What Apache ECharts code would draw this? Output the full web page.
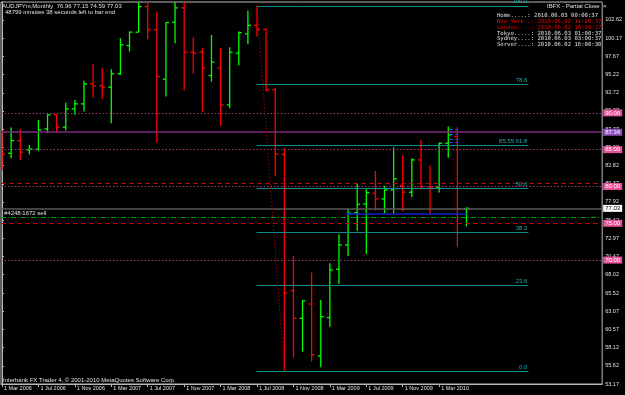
<!DOCTYPE html>
<html><head><meta charset="utf-8">
<script src="https://cdn.jsdelivr.net/npm/echarts@6/dist/echarts.min.js"></script>
<style>html,body{margin:0;padding:0;background:#000;}#c{width:625px;height:395px;}</style>
</head><body><div id="c"></div>
<script>
// ---- data (monthly AUDJPY bars, Mar 2006 .. Jun 2010) ----
const barLabels = ['2006.03','2006.04','2006.05','2006.06','2006.07','2006.08','2006.09','2006.10','2006.11','2006.12',
 '2007.01','2007.02','2007.03','2007.04','2007.05','2007.06','2007.07','2007.08','2007.09','2007.10','2007.11','2007.12',
 '2008.01','2008.02','2008.03','2008.04','2008.05','2008.06','2008.07','2008.08','2008.09','2008.10','2008.11','2008.12',
 '2009.01','2009.02','2009.03','2009.04','2009.05','2009.06','2009.07','2009.08','2009.09','2009.10','2009.11','2009.12',
 '2010.01','2010.02','2010.03','2010.04','2010.05','2010.06'];
const opens  = [86.90,84.52,86.23,84.97,85.07,87.82,89.73,88.05,90.54,91.22,93.94,93.67,93.49,95.30,99.14,100.96,104.44,101.27,94.58,102.32,104.26,98.24,98.24,95.07,96.07,91.08,98.11,100.73,101.89,101.34,93.12,84.36,65.85,62.10,64.04,56.98,62.19,68.76,72.06,76.45,77.63,79.09,78.31,79.53,80.12,79.22,83.61,79.94,79.90,85.88,86.78,76.96];
const highs  = [87.59,88.00,87.82,85.65,89.05,89.79,89.86,91.36,91.76,94.35,96.61,96.07,95.93,100.15,101.04,105.80,106.50,103.76,102.32,106.80,107.50,100.28,98.79,100.59,98.79,98.92,101.04,103.86,104.54,101.50,93.39,85.20,70.57,64.59,68.30,64.59,69.58,73.52,76.95,80.44,79.63,82.12,80.08,85.34,84.25,83.84,86.33,82.84,85.96,88.14,88.05,77.15];
const lows   = [82.16,83.84,83.61,84.39,84.83,87.24,87.32,87.59,89.73,90.17,92.08,91.90,88.60,95.16,98.33,100.91,100.01,85.96,92.21,99.47,93.03,95.30,90.17,94.25,88.23,90.64,96.42,99.33,100.36,92.89,81.44,54.85,56.80,57.57,56.21,55.45,60.96,66.76,70.57,74.00,70.80,76.72,76.37,76.27,76.59,78.54,79.63,76.27,79.17,83.92,71.83,74.59];
const closes = [84.39,86.23,84.66,85.07,87.69,89.73,88.05,90.54,91.22,93.94,93.67,93.49,95.30,99.24,100.96,104.44,101.27,94.93,102.27,104.26,98.24,98.11,96.07,96.89,91.08,98.24,100.91,101.89,101.34,93.12,84.43,65.50,62.10,64.45,57.12,62.32,68.67,72.06,76.37,77.59,79.17,78.31,79.53,81.03,79.22,83.61,79.98,79.85,85.88,87.01,76.96,77.03];

const xTickIndex  = [0,4,8,12,16,20,24,28,32,36,40,44,48];
const xTickLabels = ['1 Mar 2006','1 Jul 2006','1 Nov 2006','1 Mar 2007','1 Jul 2007','1 Nov 2007','1 Mar 2008','1 Jul 2008','1 Nov 2008','1 Mar 2009','1 Jul 2009','1 Nov 2009','1 Mar 2010'];
const yTickValues = [102.62,100.17,97.67,95.22,92.72,90.27,87.77,85.32,82.82,80.37,77.92,75.42,72.97,70.47,68.02,65.52,63.07,60.57,58.12,55.62,53.17];

// Fibonacci retracement (Jul 2008 high -> Oct 2008 low)
const fibStart = 28, fibEnd = 31, fibHigh = 104.54, fibLow = 54.85;
const fibRatios = [100.0, 78.6, 61.8, 50.0, 38.2, 23.6, 0.0];
const fibLabels = ['100.0','78.6','85.55 61.8','50.0','38.2','23.6','0.0'];
// horizontal levels
const pinkLevels = [90.00, 85.00, 80.00, 70.00];
const stopLevels = [80.50, 75.00];
const purpleLevel = 87.37;
const orderLevel = 75.83;
const bidLevel = 77.03;
const blueLevel = 76.23, blueFrom = 37.8, blueTo = 51;
const smallBlueLevels = [87.74, 87.14, 86.46, 86.01];

const header1 = 'AUDJPYm,Monthly  76.96 77.15 74.59 77.03';
const header2 = '48799 minutes 38 seconds left to bar end';
const clockTitle = 'IBFX - Partial Close';
const clockRows = [
  ['Home.....: 2010.06.03 00:00:37', '#e0e0e0'],
  ['New York..: 2010.06.02 11:00:37', '#e00000'],
  ['London....: 2010.06.02 16:00:37', '#e00000'],
  ['Tokyo.....: 2010.06.03 01:00:37', '#e0e0e0'],
  ['Sydney....: 2010.06.03 03:00:37', '#e0e0e0'],
  ['Server....: 2010.06.02 16:00:30', '#e0e0e0']
];
const orderText = '#4248:1672 sell';
const copyright = 'Interbank FX Trader 4, \u00a9 2001-2010 MetaQuotes Software Corp.';

// ---- chart ----
const ohlc = opens.map((o, i) => [i, o, highs[i], lows[i], closes[i]]);
const fibVal = r => fibLow + (fibHigh - fibLow) * r / 100;
const chart = echarts.init(document.getElementById('c'), null, {renderer: 'canvas'});
const font = 'Liberation Sans';
const fs = 6;

const markLines = [];
pinkLevels.forEach(v => markLines.push({yAxis: v, lineStyle: {color: '#a03a70', type: [1.5, 2], width: 1},
  label: {show: true, position: 'end', distance: 1, formatter: v.toFixed(2), color: '#fff', backgroundColor: '#e8509a', padding: [1, 2, 0, 2], fontSize: fs, fontFamily: font}}));
stopLevels.forEach(v => markLines.push({yAxis: v, lineStyle: {color: '#c00000', type: [5, 3], width: 1},
  label: {show: v === 75, position: 'end', distance: 1, formatter: v.toFixed(2), color: '#fff', backgroundColor: '#e8509a', padding: [1, 2, 0, 2], fontSize: fs, fontFamily: font}}));
markLines.push({yAxis: purpleLevel, lineStyle: {color: '#7a2a80', type: 'solid', width: 1.5},
  label: {show: true, position: 'end', distance: 1, formatter: '87.34', color: '#fff', backgroundColor: '#9050c0', padding: [1, 2, 0, 2], fontSize: fs, fontFamily: font}});
markLines.push({yAxis: orderLevel, lineStyle: {color: '#00a000', type: [5, 2, 1, 2], width: 1}, label: {show: false}});
markLines.push({yAxis: bidLevel, lineStyle: {color: '#5a5a5a', type: 'solid', width: 1.5},
  label: {show: true, position: 'end', distance: 1, formatter: bidLevel.toFixed(2), color: '#000', backgroundColor: '#fff', padding: [1, 2, 0, 2], fontSize: fs, fontFamily: font}});
markLines.push([{coord: [blueFrom, blueLevel], lineStyle: {color: '#1020d0', type: 'solid', width: 1.5}, label: {show: false}}, {coord: [blueTo, blueLevel]}]);
smallBlueLevels.forEach(v => markLines.push([{coord: [49.1, v], lineStyle: {color: '#2050d0', width: 1}, label: {show: false}}, {coord: [50.1, v]}]));
fibRatios.forEach((r, k) => markLines.push([{coord: [fibStart - 0.05, fibVal(r)], lineStyle: {color: '#0e8c8c', type: 'solid', width: 1.2},
  label: {show: true, position: 'insideEndTop', distance: 1, formatter: fibLabels[k], color: '#20a8a8', fontSize: fs, fontFamily: font}},
  {coord: [57.8, fibVal(r)]}]));
markLines.push([{coord: [fibStart, fibHigh], lineStyle: {color: '#a00000', type: [1.5, 2], width: 1}, label: {show: false}}, {coord: [fibEnd, fibLow]}]);

const option = {
  backgroundColor: '#000',
  animation: false,
  grid: {left: 1, right: 22, top: 2, bottom: 11, show: true, borderColor: '#b8b8b8', borderWidth: 1, backgroundColor: '#000'},
  xAxis: {
    type: 'value', min: -0.11, max: 65.9,
    axisLine: {show: true, lineStyle: {color: '#b8b8b8'}},
    splitLine: {show: false},
    axisTick: {show: true, customValues: xTickIndex, length: 3, lineStyle: {color: '#b8b8b8'}},
    axisLabel: {customValues: xTickIndex, formatter: v => xTickLabels[xTickIndex.indexOf(Math.round(v))] || '',
      color: '#e0e0e0', fontSize: 5.5, fontFamily: font, align: 'left', margin: 1, padding: [0, 0, 0, 2]}
  },
  yAxis: {
    type: 'value', position: 'right', min: 53.17, max: 105.06, scale: true,
    axisLine: {show: true, lineStyle: {color: '#b8b8b8'}},
    splitLine: {show: false},
    axisTick: {show: true, customValues: yTickValues, length: 2, lineStyle: {color: '#b8b8b8'}},
    axisLabel: {customValues: yTickValues, formatter: v => v.toFixed(2), color: '#e0e0e0', fontSize: 5.5, fontFamily: font, margin: 3, padding: [0, 0, 3, 0]}
  },
  series: [{
    type: 'custom',
    clip: true,
    data: ohlc,
    encode: {x: 0, y: [1, 2, 3, 4]},
    renderItem: (params, api) => {
      const x = api.value(0), o = api.value(1), h = api.value(2), l = api.value(3), c = api.value(4);
      const pH = api.coord([x, h]), pL = api.coord([x, l]), pO = api.coord([x, o]), pC = api.coord([x, c]);
      const color = c >= o ? '#00ff00' : '#ff0000';
      const st = {stroke: color, lineWidth: 1.3};
      return {type: 'group', children: [
        {type: 'line', shape: {x1: pH[0], y1: pH[1], x2: pL[0], y2: pL[1]}, style: st},
        {type: 'line', shape: {x1: pO[0] - 3, y1: pO[1], x2: pO[0], y2: pO[1]}, style: st},
        {type: 'line', shape: {x1: pC[0], y1: pC[1], x2: pC[0] + 3, y2: pC[1]}, style: st}
      ]};
    },
    markLine: {silent: true, symbol: ['none', 'none'], precision: 2, data: markLines}
  }],
  graphic: [
    {type: 'text', left: 2, top: 3, z: 10, style: {text: header1, fill: '#e0e0e0', font: fs + 'px ' + font}},
    {type: 'text', left: 5, top: 9, z: 10, style: {text: header2, fill: '#e0e0e0', font: fs + 'px ' + font}},
    {type: 'text', left: 547, top: 3, z: 10, style: {text: clockTitle + '  \u00d7', fill: '#e0e0e0', font: fs + 'px ' + font}},
    ...clockRows.map((r, k) => ({type: 'text', left: 497, top: 13 + k * 5.7, z: 10, style: {text: r[0], fill: r[1], font: '5.6px "DejaVu Sans Mono"'}})),
    {type: 'text', left: 4, top: 210, z: 10, style: {text: orderText, fill: '#e0e0e0', font: fs + 'px ' + font}},
    {type: 'text', left: 3, top: 377, z: 10, style: {text: copyright, fill: '#e0e0e0', font: fs + 'px ' + font}}
  ]
};
chart.setOption(option);
</script></body></html>
